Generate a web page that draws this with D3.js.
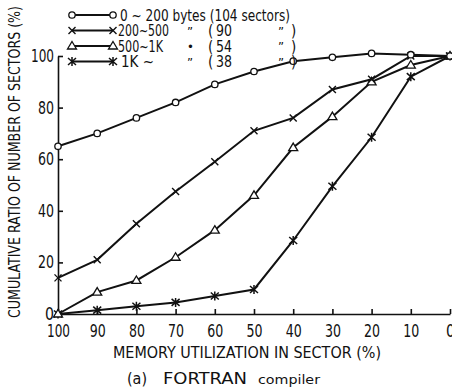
<!DOCTYPE html>
<html lang="en">
<head>
  <meta charset="UTF-8">
  <title>FORTRAN compiler - memory utilization</title>
  <script src="https://cdn.jsdelivr.net/npm/d3@7/dist/d3.min.js"></script>
  <style>
    body { margin: 0; background: #fff; }
    svg text { font-family: "Liberation Sans Narrow", "DejaVu Sans Condensed", "Liberation Sans", sans-serif; fill: #111; }
    .axis path, .axis line { stroke: #111; stroke-width: 1.6; fill: none; }
    .axis text { font-size: 17px; }
  </style>
</head>
<body>
<div id="chart"></div>
<script>
  // memory utilization in sector (%), read right to left
  var utilization = [100, 90, 80, 70, 60, 50, 40, 30, 20, 10, 0];
  var yTicks = [0, 20, 40, 60, 80, 100];

  // cumulative ratio (%) for each sector size class
  var small  = [65, 70, 76, 82, 89, 94, 98, 99.5, 101, 100.5, 100];   // 0~200
  var medium = [14, 21, 35, 47.5, 59, 71, 76, 87, 91, 100, 100];      // 200~500
  var large  = [0, 8.5, 13, 22, 32.5, 46, 64.5, 76.5, 90, 96.5, 100]; // 500~1K
  var huge   = [0, 1.5, 3, 4.5, 7, 9.5, 28.5, 49.5, 68.5, 92, 100];   // 1K~

  var seriesNames = ["0 ~ 200  bytes (104 sectors)", "200~500", "500~1K", "1K ~"];
  var seriesCounts = ["", "90", "54", "38"];
  var markers = ["circle", "cross", "triangle", "asterisk"];

  var width = 452, height = 391;
  var svg = d3.select("#chart").append("svg")
      .attr("width", width)
      .attr("height", height);

  var x = d3.scaleLinear().domain([100, 0]).range([58, 450]);
  var y = d3.scaleLinear().domain([0, 100]).range([314, 56]);

  // axes, ticks pointing inward
  svg.append("g")
      .attr("class", "axis")
      .attr("transform", "translate(0," + y(0) + ")")
      .call(d3.axisBottom(x).tickValues(utilization).tickSizeInner(-5).tickSizeOuter(0).tickPadding(11))
    .selectAll("text")
      .attr("textLength", function(d) { return d == 100 ? 23 : (d == 0 ? 9 : 16); })
      .attr("lengthAdjust", "spacingAndGlyphs");

  svg.append("g")
      .attr("class", "axis")
      .attr("transform", "translate(" + x(100) + ",0)")
      .call(d3.axisLeft(y).tickValues(yTicks).tickSizeInner(-5).tickSizeOuter(0).tickPadding(4))
    .selectAll("text")
      .attr("textLength", function(d) { return d == 100 ? 23 : (d == 0 ? 9 : 16); })
      .attr("lengthAdjust", "spacingAndGlyphs");

  // draw a marker of the given kind centred on (cx, cy)
  function drawMarker(g, kind, cx, cy) {
    if (kind == "circle") {
      g.append("circle").attr("cx", cx).attr("cy", cy).attr("r", 3.2)
        .attr("fill", "#fff").attr("stroke", "#111").attr("stroke-width", 1.3);
    } else if (kind == "triangle") {
      g.append("path")
        .attr("d", "M" + cx + "," + (cy - 4.5) + "L" + (cx + 4.5) + "," + (cy + 3) + "L" + (cx - 4.5) + "," + (cy + 3) + "Z")
        .attr("fill", "#fff").attr("stroke", "#111").attr("stroke-width", 1.3);
    } else if (kind == "cross") {
      g.append("path")
        .attr("d", "M" + (cx - 3.5) + "," + (cy - 3.5) + "L" + (cx + 3.5) + "," + (cy + 3.5) +
                   "M" + (cx + 3.5) + "," + (cy - 3.5) + "L" + (cx - 3.5) + "," + (cy + 3.5))
        .attr("stroke", "#111").attr("stroke-width", 1.4);
    } else {
      g.append("path")
        .attr("d", "M" + (cx - 4) + "," + (cy - 3.5) + "L" + (cx + 4) + "," + (cy + 3.5) +
                   "M" + (cx + 4) + "," + (cy - 3.5) + "L" + (cx - 4) + "," + (cy + 3.5) +
                   "M" + cx + "," + (cy - 4.5) + "L" + cx + "," + (cy + 4.5))
        .attr("stroke", "#111").attr("stroke-width", 1.5);
    }
  }

  var line = d3.line()
      .x(function(d, i) { return x(utilization[i]); })
      .y(function(d) { return y(d); });

  var allSeries = [huge, large, medium, small];
  var allKinds = ["asterisk", "triangle", "cross", "circle"];

  allSeries.forEach(function(values, k) {
    var g = svg.append("g");
    g.append("path")
        .datum(values)
        .attr("d", line)
        .attr("fill", "none")
        .attr("stroke", "#111")
        .attr("stroke-width", 2);
    values.forEach(function(v, i) {
      drawMarker(g, allKinds[k], x(utilization[i]), y(v));
    });
  });

  // legend
  var nameWidths = [170, 51, 45, 33];
  var legend = svg.append("g").attr("class", "legend");
  seriesNames.forEach(function(name, i) {
    var ly = 15 + i * 15.5;
    legend.append("line")
        .attr("x1", 72).attr("x2", 113)
        .attr("y1", ly).attr("y2", ly)
        .attr("stroke", "#111").attr("stroke-width", 2);
    drawMarker(legend, markers[i], 72, ly);
    drawMarker(legend, markers[i], 113, ly);

    legend.append("text")
        .attr("x", i == 0 ? 120 : (i == 3 ? 121 : 118))
        .attr("y", ly + 5.5)
        .style("font-size", "15px")
        .attr("textLength", nameWidths[i])
        .attr("lengthAdjust", "spacingAndGlyphs")
        .text(name);
    if (i > 0) {
      legend.append("text").attr("x", 187).attr("y", ly + 5).style("font-size", "13px").text(i == 2 ? "\u2022" : "\u201D");
      legend.append("text").attr("x", 208).attr("y", ly + 5.5).style("font-size", "15px").text("(");
      legend.append("text").attr("x", 216).attr("y", ly + 5.5).style("font-size", "15px")
          .attr("textLength", 16).attr("lengthAdjust", "spacingAndGlyphs").text(seriesCounts[i]);
      legend.append("text").attr("x", 278).attr("y", ly + 5).style("font-size", "13px").text("\u201D");
      legend.append("text").attr("x", 291).attr("y", ly + 5.5).style("font-size", "15px").text(")");
    }
  });

  // axis titles
  svg.append("text")
      .attr("transform", "translate(20,162) rotate(-90)")
      .attr("text-anchor", "middle")
      .style("font-size", "15px")
      .attr("textLength", 312)
      .attr("lengthAdjust", "spacingAndGlyphs")
      .text("CUMULATIVE RATIO OF NUMBER OF SECTORS (%)");

  svg.append("text")
      .attr("x", 247)
      .attr("y", 358)
      .attr("text-anchor", "middle")
      .style("font-size", "15px")
      .attr("textLength", 268)
      .attr("lengthAdjust", "spacingAndGlyphs")
      .text("MEMORY UTILIZATION IN SECTOR (%)");

  // caption
  svg.append("text").attr("x", 127).attr("y", 384).style("font-size", "16px").text("(a)");
  svg.append("text").attr("x", 163).attr("y", 384).style("font-size", "16px")
      .attr("textLength", 84).attr("lengthAdjust", "spacingAndGlyphs").text("FORTRAN");
  svg.append("text").attr("x", 258).attr("y", 384).style("font-size", "13px")
      .attr("textLength", 62).attr("lengthAdjust", "spacingAndGlyphs").text("compiler");
</script>
</body>
</html>
